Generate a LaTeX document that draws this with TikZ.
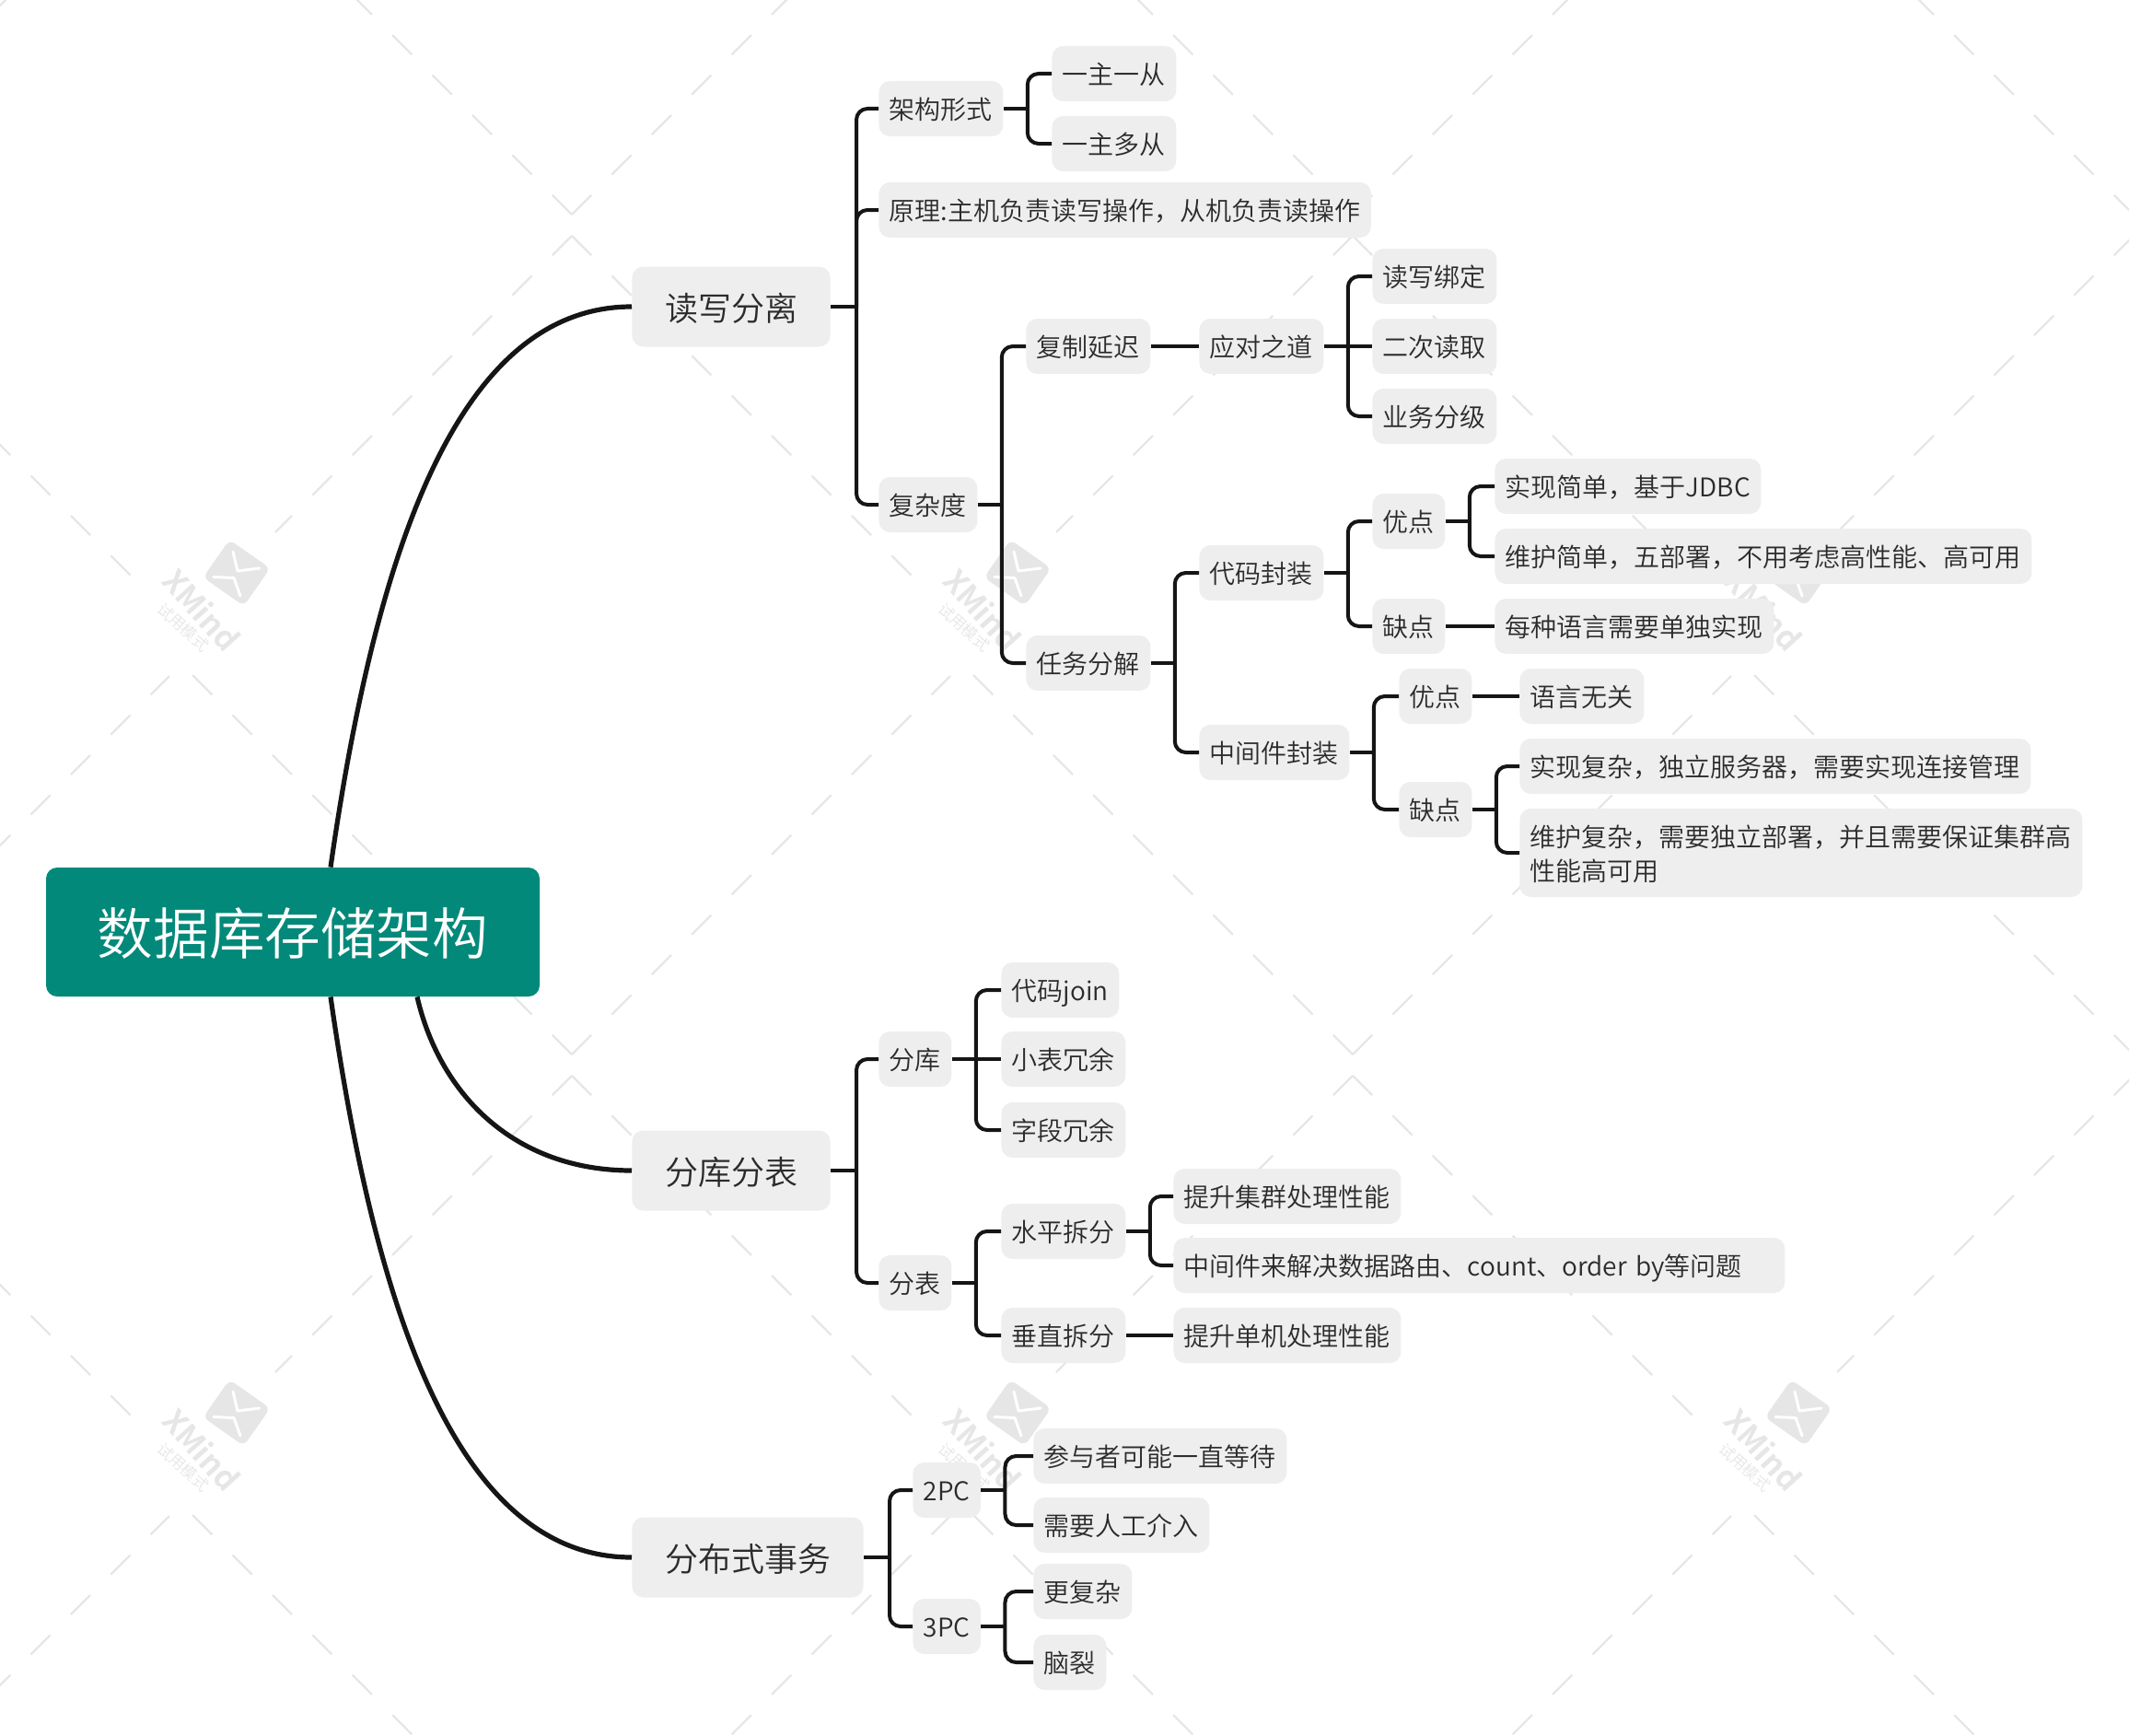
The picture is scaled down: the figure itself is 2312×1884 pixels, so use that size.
\documentclass[tikz,border=0pt]{standalone}
\usepackage{fontspec}
\setmainfont{Noto Sans CJK SC DemiLight}
\newcommand{\fwc}{^^^^ff0c}
\definecolor{rootteal}{HTML}{03897A}
\definecolor{topicgray}{HTML}{EEEEEE}
\definecolor{inkgray}{HTML}{2B2B2B}
\definecolor{linkblack}{HTML}{151515}
\definecolor{markgray}{HTML}{E6E6E6}
\tikzset{
  rootTopic/.style={fill=rootteal,text=white,rounded corners=6pt,inner sep=0pt,minimum width=268pt,minimum height=70pt,text height=24.5pt,text depth=0pt,font=\fontsize{30.3}{36}\selectfont},
  mainTopic/.style={fill=topicgray,text=inkgray,rounded corners=6pt,anchor=west,inner xsep=17.8pt,inner ysep=0pt,minimum height=43.5pt,text height=15pt,text depth=0pt,font=\fontsize{18}{22}\selectfont},
  subTopic/.style={fill=topicgray,text=inkgray,rounded corners=6pt,anchor=west,inner xsep=5.75pt,inner ysep=0pt,minimum height=30pt,text height=11.8pt,text depth=0pt,font=\fontsize{14}{18.4}\selectfont},
  curveLink/.style={draw=linkblack,line width=2.6pt},
  stubLink/.style={draw=linkblack,line width=2pt},
  busLink/.style={draw=linkblack,line width=2pt,rounded corners=6pt},
  markLine/.style={draw=markgray,line width=1.2pt,dash pattern=on 15pt off 15.7pt},
  markStroke/.style={draw=white,line width=1.5pt,line cap=round,line join=round}
}
\begin{document}
\begin{tikzpicture}[x=0.5pt,y=0.5pt,yscale=-1,xscale=1]
\useasboundingbox (0,0) rectangle (2312,1884);

% Watermark lines
\begin{scope}
\clip (0,0) rectangle (2312,1884);
\foreach \cx in {-227,621,1469,2317}
  \foreach \cy in {245,1157,2069} {
    \draw[markLine] (\cx,\cy-12) -- ++(-414,-414);
    \draw[markLine] (\cx,\cy-12) -- ++(411,-411);
    \draw[markLine] (\cx,\cy+11) -- ++(-322,322);
    \draw[markLine] (\cx,\cy+11) -- ++(369,369);
  }
\end{scope}
% Watermark logos
\foreach \wx in {257,1105,1953}
  \foreach \wy in {622,1534} {
    \node[fill=markgray,rounded corners=3.5pt,rotate=-35,minimum width=27pt,minimum height=25pt,inner sep=0pt] (logo\wx\wy) at (\wx,\wy) {};
    \draw[markStroke] (\wx-4,\wy-23) -- (\wx+1,\wy-2) -- (\wx+25,\wy-5);
    \draw[markStroke] (\wx-25,\wy+4.5) -- (\wx-3,\wy+5.5) -- (\wx+4,\wy+25);
    \node[rotate=-48,text=markgray,inner sep=0pt,font=\fontsize{17}{19}\selectfont\bfseries] (logoname\wx\wy) at (\wx-38,\wy+40) {XMind};
    \node[rotate=-42,text=markgray,inner sep=0pt,font=\fontsize{8.5}{10}\selectfont] (logotext\wx\wy) at (\wx-58,\wy+59) {试用模式};
  }

% Root and main topics
\node[rootTopic] (root) at (318,1012) {数据库存储架构};
\node[mainTopic] (rw) at (686,333) {读写分离};
\node[mainTopic] (shard) at (686,1271) {分库分表};
\node[mainTopic] (dist) at (686,1691) {分布式事务};

% Text Node
\node[subTopic] (form) at (954,118) {架构形式};
\node[subTopic] (oneone) at (1142,80) {一主一从};
\node[subTopic] (onemany) at (1142,156) {一主多从};
\node[subTopic] (basis) at (954,228) {原理:主机负责读写操作\fwc{}从机负责读操作};
\node[subTopic] (cost) at (954,548) {复杂度};
\node[subTopic] (delay) at (1114,376) {复制延迟};
\node[subTopic] (cope) at (1302,376) {应对之道};
\node[subTopic] (bind) at (1490,300) {读写绑定};
\node[subTopic] (reread) at (1490,376) {二次读取};
\node[subTopic] (grade) at (1490,452) {业务分级};
\node[subTopic] (task) at (1114,720) {任务分解};
\node[subTopic] (wrap) at (1302,622) {代码封装};
\node[subTopic] (wrapgood) at (1490,566) {优点};
\node[subTopic] (easyjdbc) at (1623,528) {实现简单\fwc{}基于JDBC};
\node[subTopic] (easykeep) at (1623,604) {维护简单\fwc{}五部署\fwc{}不用考虑高性能、高可用};
\node[subTopic] (wrapbad) at (1490,680) {缺点};
\node[subTopic] (eachlang) at (1623,680) {每种语言需要单独实现};
\node[subTopic] (middle) at (1302,817) {中间件封装};
\node[subTopic] (midgood) at (1519,756) {优点};
\node[subTopic] (anylang) at (1650,756) {语言无关};
\node[subTopic] (midbad) at (1519,879) {缺点};
\node[subTopic] (hardimpl) at (1650,832) {实现复杂\fwc{}独立服务器\fwc{}需要实现连接管理};
\node[subTopic,align=left,text height=30.2pt,minimum height=48pt] (hardkeep) at (1650,926) {维护复杂\fwc{}需要独立部署\fwc{}并且需要保证集群高\\性能高可用};

\node[subTopic] (db) at (954,1150) {分库};
\node[subTopic] (join) at (1087,1075) {代码join};
\node[subTopic] (small) at (1087,1150) {小表冗余};
\node[subTopic] (field) at (1087,1227) {字段冗余};
\node[subTopic] (table) at (954,1393) {分表};
\node[subTopic] (hsplit) at (1087,1337) {水平拆分};
\node[subTopic] (cluster) at (1274,1299) {提升集群处理性能};
\node[subTopic,text width=320.5pt,align=left] (route) at (1274,1374) {中间件来解决数据路由、count、order by等问题};
\node[subTopic] (vsplit) at (1087,1450) {垂直拆分};
\node[subTopic] (single) at (1274,1450) {提升单机处理性能};

\node[subTopic] (twopc) at (991,1618) {2PC};
\node[subTopic] (wait) at (1122,1581) {参与者可能一直等待};
\node[subTopic] (manual) at (1122,1656) {需要人工介入};
\node[subTopic] (threepc) at (991,1766) {3PC};
\node[subTopic] (harder) at (1122,1728) {更复杂};
\node[subTopic] (brain) at (1122,1805) {脑裂};

% Curve Lines
\draw[curveLink] ([xshift=20.5pt]root.north) .. controls (405,620) and (490,333) .. (rw.west);
\draw[curveLink] ([xshift=67.5pt]root.south) .. controls (478,1190) and (560,1271) .. (shard.west);
\draw[curveLink] ([xshift=20.5pt]root.south) .. controls (405,1404) and (490,1691) .. (dist.west);

% Bus points
\coordinate (rwbus) at ([xshift=14pt]rw.east);
\coordinate (formbus) at ([xshift=13pt]form.east);
\coordinate (costbus) at ([xshift=13pt]cost.east);
\coordinate (copebus) at ([xshift=13pt]cope.east);
\coordinate (taskbus) at ([xshift=13pt]task.east);
\coordinate (wrapbus) at ([xshift=13pt]wrap.east);
\coordinate (goodbus) at ([xshift=13pt]wrapgood.east);
\coordinate (middlebus) at ([xshift=13pt]middle.east);
\coordinate (badbus) at ([xshift=13pt]midbad.east);
\coordinate (shardbus) at ([xshift=14pt]shard.east);
\coordinate (dbbus) at ([xshift=13pt]db.east);
\coordinate (tablebus) at ([xshift=13pt]table.east);
\coordinate (hsplitbus) at ([xshift=13pt]hsplit.east);
\coordinate (distbus) at ([xshift=14pt]dist.east);
\coordinate (twobus) at ([xshift=13pt]twopc.east);
\coordinate (threebus) at ([xshift=13pt]threepc.east);

% Straight Lines
\draw[stubLink] (rw.east) -- (rwbus);
\draw[stubLink] (form.east) -- (formbus);
\draw[stubLink] (cost.east) -- (costbus);
\draw[stubLink] (delay.east) -- (cope.west);
\draw[stubLink] (cope.east) -- (reread.west);
\draw[stubLink] (task.east) -- (taskbus);
\draw[stubLink] (wrap.east) -- (wrapbus);
\draw[stubLink] (wrapgood.east) -- (goodbus);
\draw[stubLink] (wrapbad.east) -- (eachlang.west);
\draw[stubLink] (middle.east) -- (middlebus);
\draw[stubLink] (midgood.east) -- (anylang.west);
\draw[stubLink] (midbad.east) -- (badbus);
\draw[stubLink] (shard.east) -- (shardbus);
\draw[stubLink] (db.east) -- (small.west);
\draw[stubLink] (table.east) -- (tablebus);
\draw[stubLink] (hsplit.east) -- (hsplitbus);
\draw[stubLink] (vsplit.east) -- (single.west);
\draw[stubLink] (dist.east) -- (distbus);
\draw[stubLink] (twopc.east) -- (twobus);
\draw[stubLink] (threepc.east) -- (threebus);

% Elbow Lines
\draw[busLink] (rwbus) |- (form.west);
\draw[busLink] (rwbus) |- (basis.west);
\draw[busLink] (rwbus) |- (cost.west);
\draw[busLink] (formbus) |- (oneone.west);
\draw[busLink] (formbus) |- (onemany.west);
\draw[busLink] (costbus) |- (delay.west);
\draw[busLink] (costbus) |- (task.west);
\draw[busLink] (copebus) |- (bind.west);
\draw[busLink] (copebus) |- (grade.west);
\draw[busLink] (taskbus) |- (wrap.west);
\draw[busLink] (taskbus) |- (middle.west);
\draw[busLink] (wrapbus) |- (wrapgood.west);
\draw[busLink] (wrapbus) |- (wrapbad.west);
\draw[busLink] (goodbus) |- (easyjdbc.west);
\draw[busLink] (goodbus) |- (easykeep.west);
\draw[busLink] (middlebus) |- (midgood.west);
\draw[busLink] (middlebus) |- (midbad.west);
\draw[busLink] (badbus) |- (hardimpl.west);
\draw[busLink] (badbus) |- (hardkeep.west);
\draw[busLink] (shardbus) |- (db.west);
\draw[busLink] (shardbus) |- (table.west);
\draw[busLink] (dbbus) |- (join.west);
\draw[busLink] (dbbus) |- (field.west);
\draw[busLink] (tablebus) |- (hsplit.west);
\draw[busLink] (tablebus) |- (vsplit.west);
\draw[busLink] (hsplitbus) |- (cluster.west);
\draw[busLink] (hsplitbus) |- (route.west);
\draw[busLink] (distbus) |- (twopc.west);
\draw[busLink] (distbus) |- (threepc.west);
\draw[busLink] (twobus) |- (wait.west);
\draw[busLink] (twobus) |- (manual.west);
\draw[busLink] (threebus) |- (harder.west);
\draw[busLink] (threebus) |- (brain.west);
\end{tikzpicture}
\end{document}
